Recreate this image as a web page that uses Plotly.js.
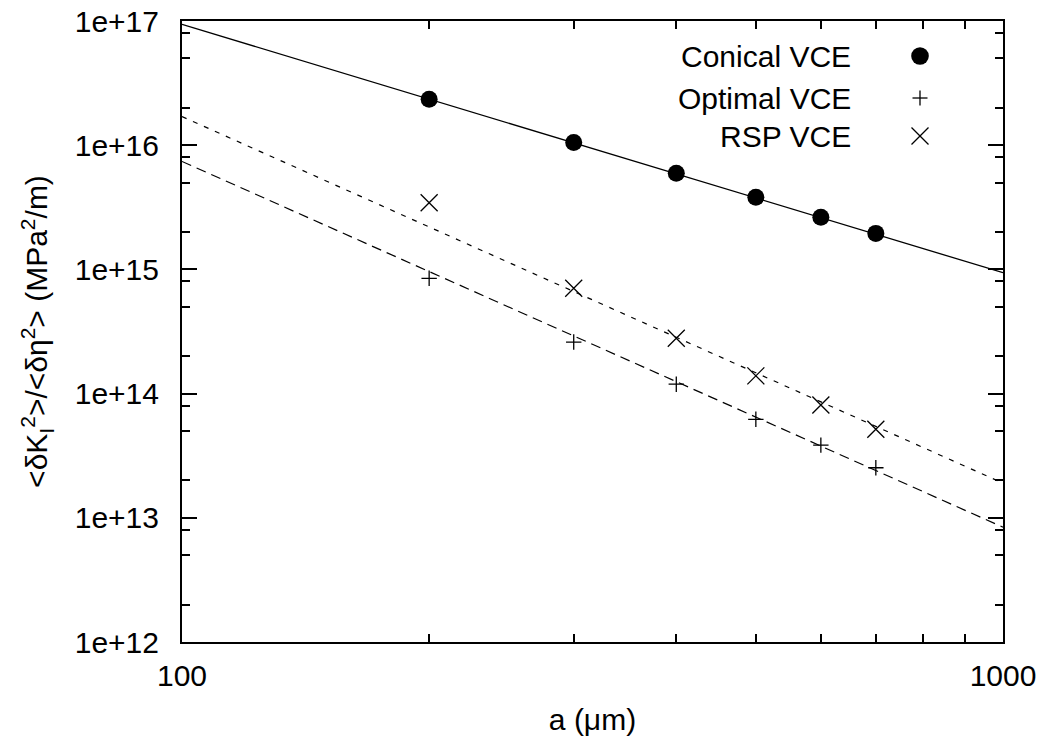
<!DOCTYPE html>
<html>
<head>
<meta charset="utf-8">
<script src="https://cdn.plot.ly/plotly-3.0.1.min.js"></script>
<style>html,body{margin:0;padding:0;background:#fff;}#chart{width:1045px;height:742px;}</style>
</head>
<body>
<div id="chart"></div>
<script>
// Data
const crackSize = [200, 300, 400, 500, 600, 700];               // a (um)
const conicalVCE = [2.34e16, 1.05e16, 5.94e15, 3.81e15, 2.63e15, 1.95e15];
const optimalVCE = [8.48e14, 2.60e14, 1.19e14, 6.21e13, 3.85e13, 2.53e13];
const rspVCE     = [3.44e15, 7.04e14, 2.79e14, 1.39e14, 8.09e13, 5.16e13];

// Fitted power-law lines (endpoints at a = 100 and a = 1000)
const fitX = [100, 1000];
const conicalFit = [9.4e16, 9.4e14];
const optimalFit = [7.4e15, 8.4e12];
const rspFit     = [1.7e16, 1.9e13];

// Axis ticks
const xTickVals = [100, 1000];
const xTickText = ['100', '1000'];
const xMinorVals = [200, 300, 400, 500, 600, 700, 800, 900];
const yTickVals = [1e12, 1e13, 1e14, 1e15, 1e16, 1e17];
const yTickText = ['1e+12', '1e+13', '1e+14', '1e+15', '1e+16', '1e+17'];
const yMinorMantissa = [2, 5, 8];
const yMinorDecades = [12, 13, 14, 15, 16];
const yMinorVals = [];
yMinorDecades.forEach(function (e) { yMinorMantissa.forEach(function (m) { yMinorVals.push(m * Math.pow(10, e)); }); });

const legendNames = ['Conical VCE', 'Optimal VCE', 'RSP VCE'];

const FONT = 'Liberation Sans, Arial, Helvetica, sans-serif';
const FS = 30;

const traces = [
  { x: fitX, y: conicalFit, mode: 'lines', line: { color: '#000', width: 1.3 }, hoverinfo: 'skip', showlegend: false },
  { x: fitX, y: optimalFit, mode: 'lines', line: { color: '#000', width: 1.2, dash: '10px,6px' }, hoverinfo: 'skip', showlegend: false },
  { x: fitX, y: rspFit, mode: 'lines', line: { color: '#000', width: 1.2, dash: '5px,7px' }, hoverinfo: 'skip', showlegend: false },
  { x: crackSize, y: conicalVCE, mode: 'markers', name: legendNames[0],
    marker: { symbol: 'circle', size: 17, color: '#000' }, showlegend: false },
  { x: crackSize, y: optimalVCE, mode: 'markers', name: legendNames[1],
    marker: { symbol: 'cross-thin-open', size: 11, color: '#000', line: { color: '#000', width: 1.3 } }, showlegend: false },
  { x: crackSize, y: rspVCE, mode: 'markers', name: legendNames[2],
    marker: { symbol: 'x-thin-open', size: 17, color: '#000', line: { color: '#000', width: 1.3 } }, showlegend: false }
];

// legend geometry (paper coords)
const legTextX = 0.8173, legKeyX = 0.8989;
const legY = [0.9436, 0.876, 0.8148];
const kx = 1 / 821, ky = 1 / 621;

const annotations = legendNames.map(function (n, i) {
  return { text: n, x: legTextX, y: legY[i], xref: 'paper', yref: 'paper', xanchor: 'right', yanchor: 'middle',
           showarrow: false, font: { family: FONT, size: FS, color: '#000' } };
});

const shapes = [
  { type: 'circle', xref: 'paper', yref: 'paper', x0: legKeyX - 8.8 * kx, x1: legKeyX + 8.8 * kx,
    y0: legY[0] - 8.8 * ky, y1: legY[0] + 8.8 * ky, fillcolor: '#000', line: { color: '#000', width: 0 } },
  { type: 'line', xref: 'paper', yref: 'paper', x0: legKeyX - 7.5 * kx, x1: legKeyX + 7.5 * kx, y0: legY[1], y1: legY[1], line: { color: '#000', width: 1.3 } },
  { type: 'line', xref: 'paper', yref: 'paper', x0: legKeyX, x1: legKeyX, y0: legY[1] - 7.5 * ky, y1: legY[1] + 7.5 * ky, line: { color: '#000', width: 1.3 } },
  { type: 'line', xref: 'paper', yref: 'paper', x0: legKeyX - 8.5 * kx, x1: legKeyX + 8.5 * kx, y0: legY[2] - 8.5 * ky, y1: legY[2] + 8.5 * ky, line: { color: '#000', width: 1.3 } },
  { type: 'line', xref: 'paper', yref: 'paper', x0: legKeyX - 8.5 * kx, x1: legKeyX + 8.5 * kx, y0: legY[2] + 8.5 * ky, y1: legY[2] - 8.5 * ky, line: { color: '#000', width: 1.3 } }
];

const axisCommon = {
  type: 'log', showgrid: false, zeroline: false, showline: true, linecolor: '#000', linewidth: 2,
  mirror: 'allticks', ticks: 'inside', ticklen: 15, tickwidth: 2, tickcolor: '#000',
  tickmode: 'array', tickfont: { family: FONT, size: FS, color: '#000' }
};

const layout = {
  width: 1045, height: 742,
  margin: { l: 182, r: 42, t: 21, b: 100 },
  paper_bgcolor: '#fff', plot_bgcolor: '#fff',
  font: { family: FONT, size: FS, color: '#000' },
  showlegend: false,
  xaxis: Object.assign({}, axisCommon, {
    range: [2, 3], tickvals: xTickVals, ticktext: xTickText,
    minor: { tickmode: 'array', tickvals: xMinorVals, ticks: 'inside', ticklen: 8, tickwidth: 2, tickcolor: '#000', showgrid: false },
    ticklabelstandoff: 6,
    title: { text: 'a (\u03bcm)', font: { family: FONT, size: FS, color: '#000' }, standoff: 18 }
  }),
  yaxis: Object.assign({}, axisCommon, {
    range: [12, 17], tickvals: yTickVals, ticktext: yTickText,
    minor: { tickmode: 'array', tickvals: yMinorVals, ticks: 'inside', ticklen: 8, tickwidth: 2, tickcolor: '#000', showgrid: false },
    ticklabelstandoff: 15,
    title: { text: '&lt;\u03b4K<sub>I</sub><sup>2</sup>&gt;/&lt;\u03b4\u03b7<sup>2</sup>&gt; (MPa<sup>2</sup>/m)',
             font: { family: FONT, size: FS, color: '#000' }, standoff: 18 }
  }),
  annotations: annotations,
  shapes: shapes
};

Plotly.newPlot('chart', traces, layout, { staticPlot: true, displayModeBar: false });
</script>
</body>
</html>
